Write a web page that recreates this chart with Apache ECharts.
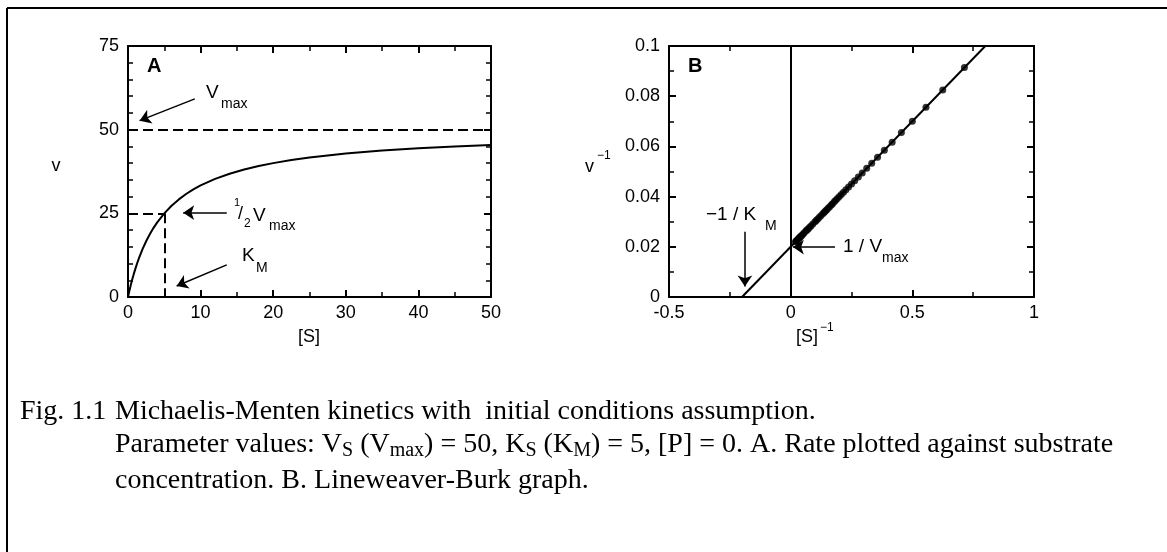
<!DOCTYPE html>
<html><head><meta charset="utf-8">
<script src="https://cdn.jsdelivr.net/npm/echarts@6/dist/echarts.min.js"></script>
<style>html,body{margin:0;padding:0;background:#fff}#c{width:1167px;height:552px}</style>
</head><body><div id="c"></div>
<script>
// ---- Panel A: rate v against substrate [S] ----
const substrateA = [0, 0.2, 0.4, 0.6, 0.8, 1, 1.25, 1.5, 2, 2.5, 3, 3.5, 4, 5, 6, 7, 8, 9, 10, 12, 14, 16, 18, 20, 22.5, 25, 27.5, 30, 35, 40, 45, 50];
const rateA = [0, 1.92, 3.70, 5.36, 6.90, 8.33, 10.0, 11.54, 14.29, 16.67, 18.75, 20.59, 22.22, 25.0, 27.27, 29.17, 30.77, 32.14, 33.33, 35.29, 36.84, 38.10, 39.13, 40.0, 40.91, 41.67, 42.31, 42.86, 43.75, 44.44, 45.0, 45.45];
const vmaxLevel = 50;
const halfVmaxLevel = 25;
const kmValue = 5;

// ---- Panel B: Lineweaver-Burk points ----
const invSubstrateB = [0.714, 0.625, 0.556, 0.5, 0.455, 0.417, 0.385, 0.357, 0.333, 0.3125, 0.294, 0.278, 0.263, 0.25, 0.238, 0.227, 0.217, 0.208, 0.2, 0.192, 0.185, 0.179, 0.172, 0.167, 0.16, 0.154, 0.148, 0.143, 0.138, 0.133, 0.125, 0.118, 0.111, 0.105, 0.1, 0.0909, 0.0833, 0.0769, 0.0714, 0.0667, 0.0625, 0.0556, 0.05, 0.0455, 0.0417, 0.0385, 0.0357, 0.0333, 0.0286, 0.025, 0.0222, 0.02];
const invRateB = [0.0914, 0.0825, 0.0756, 0.07, 0.0655, 0.0617, 0.0585, 0.0557, 0.0533, 0.05125, 0.0494, 0.0478, 0.0463, 0.045, 0.0438, 0.0427, 0.0417, 0.0408, 0.04, 0.0392, 0.0385, 0.0379, 0.0372, 0.0367, 0.036, 0.0354, 0.0348, 0.0343, 0.0338, 0.0333, 0.0325, 0.0318, 0.0311, 0.0305, 0.03, 0.0291, 0.0283, 0.0277, 0.0271, 0.0267, 0.0263, 0.0256, 0.025, 0.0245, 0.0242, 0.0238, 0.0236, 0.0233, 0.0229, 0.0225, 0.0222, 0.022];
const fitLineX = [-0.2, 0.8];
const fitLineY = [0, 0.1];

const SANS = '"Liberation Sans", Arial, sans-serif';
const SERIF = '"Liberation Serif", "Times New Roman", serif';
const BLACK = '#000';
const LABEL_SIZE = 18;
const CAP = 28;

function mkAxis(kind, gridIndex, min, max, interval, minorSplit, position, showLabel) {
  return {
    type: 'value', gridIndex, min, max, interval, position,
    axisLine: { show: true, onZero: false, lineStyle: { color: BLACK, width: 2 } },
    axisTick: { show: true, inside: true, length: 7, lineStyle: { color: BLACK, width: 2 } },
    minorTick: { show: true, splitNumber: minorSplit, length: 5, lineStyle: { color: BLACK, width: 1.5 } },
    splitLine: { show: false }, minorSplitLine: { show: false },
    axisLabel: { show: showLabel, color: BLACK, fontSize: LABEL_SIZE, fontFamily: SANS, margin: kind === 'x' ? 7 : 9,
                 showMinLabel: true, showMaxLabel: true, hideOverlap: false }
  };
}

const dataA = substrateA.map((s, i) => [s, rateA[i]]);
const dataB = invSubstrateB.map((s, i) => [s, invRateB[i]]);
const lineB = fitLineX.map((x, i) => [x, fitLineY[i]]);

function txt(x, y, text, size, opts) {
  return { type: 'text', x, y, silent: true,
    style: { text, fill: BLACK, font: (opts && opts.bold ? 'bold ' : '') + size + 'px ' + ((opts && opts.font) || SANS),
             textAlign: (opts && opts.align) || 'left', textVerticalAlign: 'middle' } };
}

const option = {
  animation: false,
  backgroundColor: '#fff',
  grid: [
    { left: 128, top: 46, width: 363, height: 251, outerBoundsMode: 'none', containLabel: false },
    { left: 669, top: 46, width: 365, height: 251, outerBoundsMode: 'none', containLabel: false }
  ],
  xAxis: [
    mkAxis('x', 0, 0, 50, 10, 2, 'bottom', true),
    mkAxis('x', 0, 0, 50, 10, 2, 'top', false),
    mkAxis('x', 1, -0.5, 1, 0.5, 2, 'bottom', true),
    mkAxis('x', 1, -0.5, 1, 0.5, 2, 'top', false)
  ],
  yAxis: [
    mkAxis('y', 0, 0, 75, 25, 5, 'left', true),
    mkAxis('y', 0, 0, 75, 25, 5, 'right', false),
    mkAxis('y', 1, 0, 0.1, 0.02, 2, 'left', true),
    mkAxis('y', 1, 0, 0.1, 0.02, 2, 'right', false)
  ],
  series: [
    { type: 'line', xAxisIndex: 0, yAxisIndex: 0, data: dataA, showSymbol: false, smooth: false,
      lineStyle: { color: BLACK, width: 2 }, silent: true },
    { type: 'lines', coordinateSystem: 'cartesian2d', xAxisIndex: 0, yAxisIndex: 0, silent: true,
      symbol: ['none', 'none'], lineStyle: { color: BLACK, width: 2, type: [10, 5], opacity: 1 },
      data: [
        { coords: [[0, vmaxLevel], [50, vmaxLevel]] },
        { coords: [[0, halfVmaxLevel], [kmValue, halfVmaxLevel]] },
        { coords: [[kmValue, halfVmaxLevel], [kmValue, 0]] }
      ] },
    { type: 'lines', coordinateSystem: 'cartesian2d', xAxisIndex: 0, yAxisIndex: 0, silent: true,
      symbol: ['none', 'arrow'], symbolSize: [7, 11], lineStyle: { color: BLACK, width: 1.5, opacity: 1 },
      data: [
        { coords: [[9.2, 59.2], [1.6, 52.7]] },
        { coords: [[13.6, 25.2], [7.6, 25.2]] },
        { coords: [[13.6, 9.6], [6.7, 3.3]] }
      ] },
    { type: 'lines', coordinateSystem: 'cartesian2d', xAxisIndex: 2, yAxisIndex: 2, silent: true,
      symbol: ['none', 'none'], lineStyle: { color: BLACK, width: 2, opacity: 1 },
      data: [ { coords: [[0, 0], [0, 0.1]] } ] },
    { type: 'line', xAxisIndex: 2, yAxisIndex: 2, data: lineB, showSymbol: false,
      lineStyle: { color: BLACK, width: 2 }, silent: true },
    { type: 'scatter', xAxisIndex: 2, yAxisIndex: 2, data: dataB, symbol: 'circle', symbolSize: 7,
      itemStyle: { color: BLACK }, silent: true },
    { type: 'lines', coordinateSystem: 'cartesian2d', xAxisIndex: 2, yAxisIndex: 2, silent: true,
      symbol: ['none', 'arrow'], symbolSize: [7, 11], lineStyle: { color: BLACK, width: 1.5, opacity: 1 },
      data: [
        { coords: [[-0.188, 0.026], [-0.188, 0.0042]] },
        { coords: [[0.182, 0.0199], [0.009, 0.0199]] }
      ] }
  ],
  graphic: [
    // outer frame
    { type: 'line', silent: true, shape: { x1: 7, y1: 8, x2: 1167, y2: 8 }, style: { stroke: BLACK, lineWidth: 2 } },
    { type: 'line', silent: true, shape: { x1: 7, y1: 8, x2: 7, y2: 552 }, style: { stroke: BLACK, lineWidth: 2 } },
    // panel A texts
    txt(147, 66, 'A', 20, { bold: true }),
    txt(56, 166, 'v', 18, { align: 'center' }),
    txt(309, 337, '[S]', 18, { align: 'center' }),
    txt(206, 93, 'V', 19), txt(221, 104, 'max', 14),
    txt(234, 203, '1', 11), txt(238, 214, '/', 18), txt(244, 224, '2', 12),
    txt(253, 216, 'V', 19), txt(269, 226, 'max', 14),
    txt(242, 256, 'K', 19), txt(256, 268, 'M', 14),
    // panel B texts
    txt(688, 66, 'B', 20, { bold: true }),
    txt(585, 167, 'v', 18), txt(597, 156, '\u22121', 12),
    txt(796, 337, '[S]', 18), txt(820, 328, '\u22121', 12),
    txt(706, 215, '\u22121 / K', 19), txt(765, 226, 'M', 14),
    txt(843, 247, '1 / V', 19), txt(882, 258, 'max', 14),
    // caption
    txt(20, 412, 'Fig. 1.1', CAP, { font: SERIF }),
    txt(115, 412, 'Michaelis-Menten kinetics with  initial conditions assumption.', CAP, { font: SERIF }),
    { type: 'text', x: 115, y: 431, silent: true,
      style: { text: '{n|Parameter values: V}{s|S}{n| (V}{s|max}{n|) = 50, K}{s|S}{n| (K}{s|M}{n|) = 5, [P] = 0. A. Rate plotted against substrate}',
               fill: BLACK, font: CAP + 'px ' + SERIF, textVerticalAlign: 'top',
               rich: { n: { fontSize: CAP, fontFamily: SERIF, lineHeight: 30, verticalAlign: 'top', fill: BLACK },
                       s: { fontSize: 20, fontFamily: SERIF, lineHeight: 16, verticalAlign: 'bottom', fill: BLACK } } } },
    txt(115, 481, 'concentration. B. Lineweaver-Burk graph.', CAP, { font: SERIF })
  ]
};

const chart = echarts.init(document.getElementById('c'), null, { renderer: 'canvas' });
chart.setOption(option);
</script>
</body></html>
